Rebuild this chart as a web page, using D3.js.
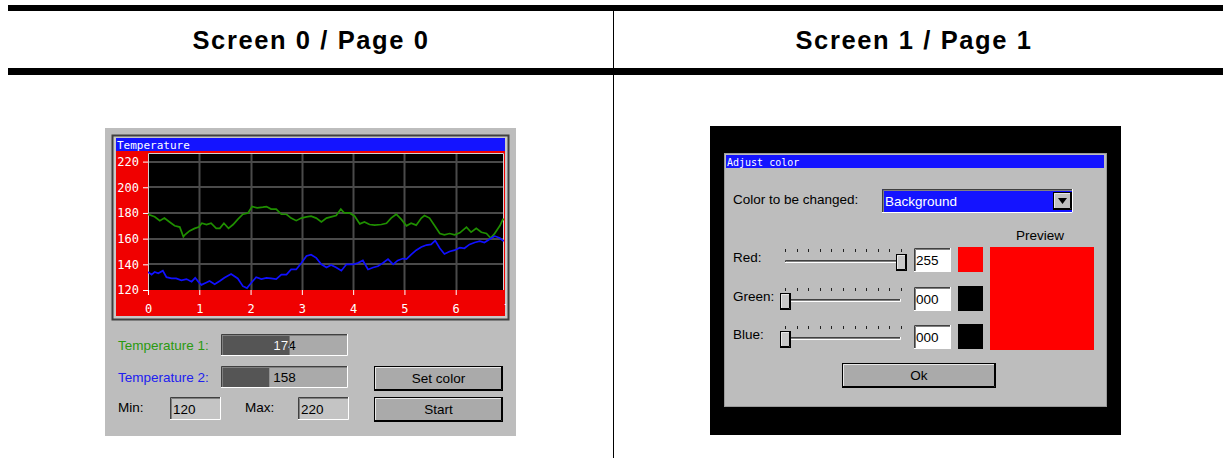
<!DOCTYPE html>
<html lang="en">
<head>
<meta charset="UTF-8">
<title>Screen / Page</title>
<script src="https://cdn.jsdelivr.net/npm/d3@7"></script>
<style>
  body { margin: 0; background: #fff; }
  svg { display: block; font-family: 'Liberation Sans', Arial, sans-serif; }
  .pix { font-family: 'DejaVu Sans Mono', monospace; }
</style>
</head>
<body>
<script>
    // values
    const headers = ['Screen 0 / Page 0', 'Screen 1 / Page 1']

    const time1 = [0, 0.13, 0.23, 0.32, 0.42, 0.52, 0.62, 0.69, 0.72, 0.81, 0.91, 0.99, 1.05, 1.14, 1.23, 1.33, 1.40, 1.48,
        1.57, 1.66, 1.75, 1.85, 1.95, 2.03, 2.13, 2.24, 2.31, 2.40, 2.50, 2.60, 2.70, 2.79, 2.89, 2.99, 3.09, 3.18, 3.28,
        3.38, 3.48, 3.57, 3.67, 3.76, 3.83, 3.93, 4.03, 4.13, 4.22, 4.32, 4.42, 4.55, 4.65, 4.74, 4.84, 4.94, 5.04, 5.13,
        5.23, 5.33, 5.39, 5.49, 5.59, 5.69, 5.78, 5.88, 5.98, 6.08, 6.21, 6.30, 6.40, 6.50, 6.60, 6.68, 6.76, 6.86, 6.92, 6.96]
    const temp1 = [179, 177, 174, 176, 173, 170, 169, 161.5, 163, 166, 168, 169, 172, 171, 172, 168, 168, 172,
        168, 171, 175, 179, 180, 185, 184, 184.5, 185, 183, 183, 179, 179, 176, 174, 176, 177, 177.5, 176,
        173, 176, 177, 178, 183, 180, 180, 177.5, 171.5, 173, 171, 170.5, 171, 172, 176, 179, 175, 170, 172,
        170.5, 176, 178, 176, 170, 164, 163, 164, 163, 164.5, 169, 165, 168, 165, 164, 160.5, 164, 170, 175, 175]

    const time2 = [0, 0.07, 0.13, 0.2, 0.29, 0.36, 0.46, 0.55, 0.65, 0.75, 0.85, 0.92, 0.98, 1.04, 1.12, 1.2, 1.3, 1.4,
        1.49, 1.62, 1.75, 1.85, 1.93, 2.01, 2.11, 2.21, 2.31, 2.4, 2.5, 2.6, 2.7, 2.79, 2.89, 2.99, 3.09, 3.18, 3.28,
        3.38, 3.48, 3.57, 3.67, 3.77, 3.87, 4.0, 4.09, 4.19, 4.29, 4.39, 4.48, 4.58, 4.68, 4.78, 4.87, 4.97, 5.04, 5.13,
        5.23, 5.33, 5.43, 5.52, 5.6, 5.69, 5.78, 5.88, 5.98, 6.08, 6.17, 6.27, 6.37, 6.47, 6.56, 6.66, 6.76, 6.86, 6.92, 6.96]
    const temp2 = [134, 132, 134, 133, 135, 130, 129, 129, 127.5, 128.5, 126.5, 129.5, 126.5, 124, 125.5, 127, 124.5, 127,
        129.5, 132.5, 129, 123, 121.5, 125.5, 130, 128.5, 129.5, 129, 128.5, 132, 132, 136, 136, 141, 146.5, 147.5, 145,
        140, 137.5, 139.5, 137.5, 135, 140, 140, 141, 143, 136, 137.5, 138.5, 141, 144, 140, 143, 144.5, 144, 147.5,
        151, 153.5, 155, 155.5, 158.5, 152.5, 148, 150, 151, 153, 152.5, 155.5, 157, 158, 157, 159.5, 162, 160.5, 158.5, 158.5]

    const yTicks = [120, 140, 160, 180, 200, 220]
    const xTicks = [0, 1, 2, 3, 4, 5, 6, 7]
    const tempMin = 120
    const tempMax = 220
    const tempNames = ['Temperature 1:', 'Temperature 2:']
    const tempNow = [174, 158]
    const buttons = ['Set color', 'Start']

    const rgbNames = ['Red:', 'Green:', 'Blue:']
    const rgbValues = [255, 0, 0]

    const [width, height] = [1223, 458]
    const svg = d3.select('body').append('svg')
        .attr('width', width)
        .attr('height', height)

    const panelGray = '#bdbdbd'
    const btnGray = '#aaaaaa'
    const blue = '#1414ff'
    const fs = 13.5

    // 3d box like the old win style widgets
    const box = (g, x, y, w, h, fill, kind) => {
        g.append('rect').attr('x', x).attr('y', y).attr('width', w).attr('height', h)
            .attr('fill', fill).attr('shape-rendering', 'crispEdges')
        let tl = '#404040', br = '#ffffff'
        if (kind === 'raised') [tl, br] = ['#ffffff', '#404040']
        g.append('path').attr('d', `M${x + 0.5},${y + h}V${y + 0.5}H${x + w}`)
            .attr('fill', 'none').attr('stroke', tl)
        g.append('path').attr('d', `M${x + w - 0.5},${y}V${y + h - 0.5}H${x}`)
            .attr('fill', 'none').attr('stroke', br)
        if (kind === 'sunken') {
            g.append('path').attr('d', `M${x + 1.5},${y + h - 1}V${y + 1.5}H${x + w - 1}`)
                .attr('fill', 'none').attr('stroke', '#808080')
        }
        if (kind === 'button') {
            g.append('rect').attr('x', x + 0.5).attr('y', y + 0.5).attr('width', w - 1).attr('height', h - 1)
                .attr('fill', 'none').attr('stroke', '#000')
            g.append('path').attr('d', `M${x + 1.5},${y + h - 2}V${y + 1.5}H${x + w - 2}`)
                .attr('fill', 'none').attr('stroke', '#e8e8e8')
            g.append('path').attr('d', `M${x + w - 1.5},${y + 1}V${y + h - 1.5}H${x + 1}`)
                .attr('fill', 'none').attr('stroke', '#000')
        }
    }

    // ---------- header ----------
    svg.append('rect').attr('x', 8).attr('y', 5).attr('width', width - 8).attr('height', 6).attr('fill', '#000')
    svg.append('rect').attr('x', 8).attr('y', 68).attr('width', width - 8).attr('height', 7).attr('fill', '#000')
    svg.append('line').attr('x1', 613.5).attr('x2', 613.5).attr('y1', 11).attr('y2', height)
        .attr('stroke', '#000').attr('stroke-width', 1)
    svg.selectAll('text.head').data(headers).enter().append('text')
        .attr('class', 'head')
        .attr('x', (d, i) => i ? 914 : 311)
        .attr('y', 49)
        .attr('text-anchor', 'middle')
        .attr('font-size', 25.5)
        .attr('font-weight', 'bold')
        .attr('letter-spacing', 1.6)
        .text(d => d)

    // ---------- screen 0 ----------
    const left = svg.append('g')
    left.append('rect').attr('x', 105).attr('y', 128).attr('width', 411).attr('height', 308).attr('fill', panelGray)

    // graph widget frame
    left.append('rect').attr('x', 112.5).attr('y', 135.5).attr('width', 396).attr('height', 184)
        .attr('fill', '#c8c8c8').attr('stroke', '#404040').attr('stroke-width', 2)
    left.append('rect').attr('x', 116).attr('y', 151).attr('width', 389).attr('height', 165).attr('fill', '#f00000')
    left.append('rect').attr('x', 116).attr('y', 138).attr('width', 389).attr('height', 13).attr('fill', blue)
    left.append('text').attr('class', 'pix').attr('x', 117).attr('y', 148.5).attr('fill', '#fff')
        .attr('font-size', 11).text('Temperature')

    const x = d3.scaleLinear().domain([0, 7]).range([148, 507])
    const y = d3.scaleLinear().domain([120, 220]).range([290, 161.6])
    const plot = {x0: 148, x1: 504, y0: 153, y1: 290}

    left.append('clipPath').attr('id', 'plotClip').append('rect')
        .attr('x', plot.x0).attr('y', plot.y0).attr('width', plot.x1 - plot.x0).attr('height', plot.y1 - plot.y0)
    left.append('clipPath').attr('id', 'redClip').append('rect')
        .attr('x', 116).attr('y', 151).attr('width', 390).attr('height', 165)

    left.append('rect').attr('x', plot.x0).attr('y', plot.y0)
        .attr('width', plot.x1 - plot.x0).attr('height', plot.y1 - plot.y0).attr('fill', '#000')

    const grid = left.append('g').attr('clip-path', 'url(#plotClip)')
    grid.selectAll('line.gx').data(xTicks.slice(1)).enter().append('line')
        .attr('x1', d => Math.round(x(d)) + 0.5).attr('x2', d => Math.round(x(d)) + 0.5)
        .attr('y1', plot.y0).attr('y2', plot.y1)
        .attr('stroke', '#4a4a4a').attr('stroke-width', 2)
    grid.selectAll('line.gy').data(yTicks.slice(1)).enter().append('line')
        .attr('x1', plot.x0).attr('x2', plot.x1)
        .attr('y1', d => Math.round(y(d))).attr('y2', d => Math.round(y(d)))
        .attr('stroke', '#4a4a4a').attr('stroke-width', 2)

    left.append('path')
        .attr('d', `M${plot.x0 + 0.5},${plot.y1}V${plot.y0 + 0.5}H${plot.x1 - 0.5}V${plot.y1}`)
        .attr('fill', 'none').attr('stroke', '#d0d0d0')

    const line = d3.line().x(d => x(d[0])).y(d => y(d[1]))
    const lines = left.append('g').attr('clip-path', 'url(#plotClip)')
    lines.append('path').datum(d3.zip(time1, temp1)).attr('d', line)
        .attr('fill', 'none').attr('stroke', '#1f8f00').attr('stroke-width', 1.7)
    lines.append('path').datum(d3.zip(time2, temp2)).attr('d', line)
        .attr('fill', 'none').attr('stroke', '#1010ff').attr('stroke-width', 1.7)

    const styleAxis = g => {
        g.select('.domain').remove()
        g.selectAll('line').attr('stroke', '#fff')
        g.selectAll('text').attr('class', 'pix').attr('fill', '#fff').attr('font-size', 12)
    }
    left.append('g').attr('transform', `translate(${plot.x0},0)`)
        .call(d3.axisLeft(y).tickValues(yTicks).tickSize(5).tickPadding(4))
        .call(styleAxis)
    left.append('g').attr('clip-path', 'url(#redClip)')
        .append('g').attr('transform', `translate(0,${plot.y1})`)
        .call(d3.axisBottom(x).tickValues(xTicks).tickFormat(d3.format('d')).tickSize(5).tickPadding(9))
        .call(styleAxis)

    // progress bars
    const bar = d3.scaleLinear().domain([tempMin, tempMax]).range([0, 127])
    const rowTop = [334, 366]
    tempNames.forEach((name, i) => {
        const ty = rowTop[i]
        left.append('text').attr('x', 118).attr('y', ty + 16).attr('font-size', fs)
            .attr('fill', i ? '#2020f0' : '#2a9a10').text(name)
        const g = left.append('g')
        box(g, 221, ty, 127, 22, btnGray, 'sunken')
        const fillW = bar(tempNow[i])
        g.append('rect').attr('x', 223).attr('y', ty + 2).attr('width', fillW - 2).attr('height', 19)
            .attr('fill', '#555555')
        g.append('clipPath').attr('id', 'pb' + i).append('rect')
            .attr('x', 221).attr('y', ty).attr('width', fillW).attr('height', 22)
        g.append('text').attr('x', 284.5).attr('y', ty + 16).attr('text-anchor', 'middle')
            .attr('font-size', fs).attr('fill', '#000').text(tempNow[i])
        g.append('text').attr('x', 284.5).attr('y', ty + 16).attr('text-anchor', 'middle')
            .attr('font-size', fs).attr('fill', '#fff').attr('clip-path', `url(#pb${i})`).text(tempNow[i])
    })

    buttons.forEach((name, i) => {
        const by = [366, 397][i]
        const g = left.append('g')
        box(g, 374, by, 129, 25, btnGray, 'button')
        g.append('text').attr('x', 438.5).attr('y', by + 17).attr('text-anchor', 'middle')
            .attr('font-size', fs).text(name)
    })

    const limits = [['Min:', 118, 170, tempMin], ['Max:', 245, 298, tempMax]]
    limits.forEach(([lab, lx, ex, v]) => {
        left.append('text').attr('x', lx).attr('y', 412).attr('font-size', fs).text(lab)
        const g = left.append('g')
        box(g, ex, 397, 51, 23, '#c4c4c4', 'sunken')
        g.append('text').attr('x', ex + 3).attr('y', 414).attr('font-size', fs).text(v)
    })

    // ---------- screen 1 ----------
    const right = svg.append('g')
    right.append('rect').attr('x', 710).attr('y', 126).attr('width', 411).attr('height', 309).attr('fill', '#000')
    right.append('rect').attr('x', 724.5).attr('y', 153.5).attr('width', 382).attr('height', 253)
        .attr('fill', panelGray).attr('stroke', '#9a9a9a')
    right.append('rect').attr('x', 726).attr('y', 155).attr('width', 378).attr('height', 13).attr('fill', blue)
    right.append('text').attr('class', 'pix').attr('x', 727).attr('y', 165.5).attr('fill', '#fff')
        .attr('font-size', 10).text('Adjust color')

    right.append('text').attr('x', 733).attr('y', 204).attr('font-size', fs).text('Color to be changed:')
    const dd = right.append('g')
    box(dd, 882, 189, 191, 24, blue, 'sunken')
    dd.append('text').attr('x', 885).attr('y', 206).attr('font-size', fs).attr('fill', '#fff').text('Background')
    box(dd, 1053, 192, 19, 18, '#c0c0c0', 'button')
    dd.append('path').attr('d', 'M1058,198H1067L1062.5,204Z').attr('fill', '#000')

    const slider = d3.scaleLinear().domain([0, 255]).range([785, 901])
    const sliderTicks = d3.range(0, 256, 25.5)
    const rowY = [248, 287, 325]
    const preview = d3.rgb(rgbValues[0], rgbValues[1], rgbValues[2])

    rgbNames.forEach((name, i) => {
        const ry = rowY[i]
        const g = right.append('g')
        g.append('text').attr('x', 733).attr('y', ry + 14).attr('font-size', fs).text(name)
        g.selectAll('line.tk').data(sliderTicks).enter().append('line')
            .attr('x1', d => Math.round(slider(d)) + 0.5).attr('x2', d => Math.round(slider(d)) + 0.5)
            .attr('y1', ry + 1).attr('y2', ry + 4).attr('stroke', '#202020')
        box(g, 785, ry + 12, 116, 3, '#c0c0c0', 'sunken')
        box(g, Math.round(slider(rgbValues[i]) - 5.5), ry + 6, 11, 17, '#c8c8c8', 'button')
        box(g, 914, ry, 37, 24, '#fff', 'sunken')
        g.append('text').attr('x', 916).attr('y', ry + 17).attr('font-size', fs)
            .text(d3.format('03d')(rgbValues[i]))
        const c = [0, 0, 0]
        c[i] = rgbValues[i]
        g.append('rect').attr('x', 958).attr('y', ry - 1).attr('width', 25).attr('height', 25)
            .attr('fill', d3.rgb(c[0], c[1], c[2]))
    })

    right.append('text').attr('x', 1040).attr('y', 240).attr('text-anchor', 'middle')
        .attr('font-size', fs).text('Preview')
    right.append('rect').attr('x', 990).attr('y', 247).attr('width', 104).attr('height', 103)
        .attr('fill', preview)

    const ok = right.append('g')
    box(ok, 842, 363, 154, 25, btnGray, 'button')
    ok.append('text').attr('x', 919).attr('y', 380).attr('text-anchor', 'middle').attr('font-size', fs).text('Ok')
</script>
</body>
</html>
